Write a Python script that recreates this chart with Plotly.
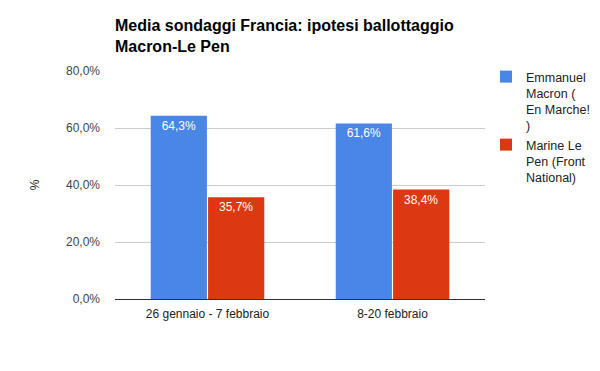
import plotly.graph_objects as go

categories = ["26 gennaio - 7 febbraio", "8-20 febbraio"]
macron = [64.3, 61.6]
lepen = [35.7, 38.4]
series_names = ["Emmanuel<br>Macron (<br>En Marche!<br>)", "Marine Le<br>Pen (Front<br>National)"]
y_ticks = [0, 20, 40, 60, 80]
y_ticklabels = ["0,0%", "20,0%", "40,0%", "60,0%", "80,0%"]

def fmt(v):
    return f"{v:.1f}%".replace(".", ",")

fig = go.Figure()
fig.add_trace(go.Bar(
    x=categories, y=macron, name=series_names[0],
    marker=dict(color="#4a86e8", line=dict(width=0)),
    text=[fmt(v) for v in macron], textposition="inside", insidetextanchor="end",
    textfont=dict(color="white", size=12, family="Arial"), constraintext="none",
))
fig.add_trace(go.Bar(
    x=categories, y=lepen, name=series_names[1],
    marker=dict(color="#dc3912", line=dict(width=0)),
    text=[fmt(v) for v in lepen], textposition="inside", insidetextanchor="end",
    textfont=dict(color="white", size=12, family="Arial"), constraintext="none",
))

fig.update_layout(
    width=600, height=371,
    margin=dict(l=115, r=115, t=71, b=72, autoexpand=False),
    paper_bgcolor="white", plot_bgcolor="white",
    font=dict(family="Arial, Liberation Sans", size=12, color="#444"),
    title=dict(text="<b>Media sondaggi Francia: ipotesi ballottaggio<br>Macron-Le Pen</b>",
               x=115/600, xanchor="left", y=1-31/371, yanchor="top",
               font=dict(size=16, color="#000")),
    barmode="group", bargap=0.38, bargroupgap=0.02,
    showlegend=True,
    legend=dict(xref="container", yref="container", x=486/600, xanchor="left",
                y=1-62/371, yanchor="top", valign="top",
                font=dict(size=12.5, color="#222"), tracegroupgap=4,
                itemwidth=30),
    xaxis=dict(showgrid=False, ticks="", automargin=False, ticklabelstandoff=6,
               tickfont=dict(color="#222", size=12)),
    yaxis=dict(range=[0, 80], tickvals=y_ticks, ticktext=y_ticklabels, automargin=False,
               showgrid=True, gridcolor="#cccccc", zeroline=True, zerolinecolor="#333333",
               zerolinewidth=1, ticks="", ticklen=0, ticklabelstandoff=14,
               title=dict(text="%", font=dict(size=12, color="#222"), standoff=23),
               tickfont=dict(color="#444", size=12)),
)
fig.write_html("out.html", config={"displayModeBar": False},
               post_script="document.body.style.margin='0';")
